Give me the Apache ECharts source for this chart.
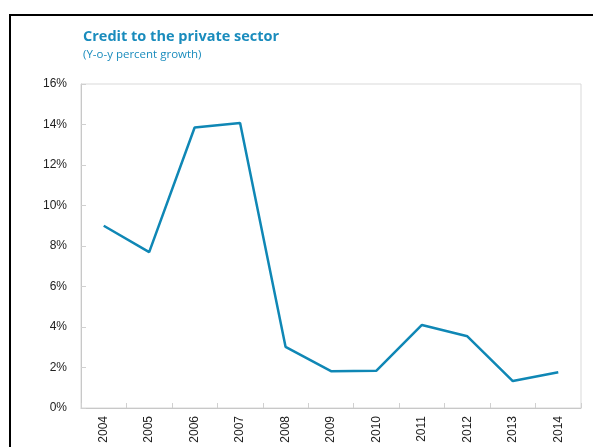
<!DOCTYPE html>
<html>
<head>
<meta charset="utf-8">
<script src="https://cdn.jsdelivr.net/npm/echarts@6/dist/echarts.min.js"></script>
<style>
  html, body { margin: 0; padding: 0; background: #fff; }
  #chart { width: 593px; height: 447px; }
</style>
</head>
<body>
<div id="chart"></div>
<script>
// Years on the category axis
const years = ['2004', '2005', '2006', '2007', '2008', '2009', '2010', '2011', '2012', '2013', '2014'];
// Year-on-year growth of credit to the private sector, percent
const creditGrowth = [9.0, 7.7, 13.85, 14.07, 3.02, 1.82, 1.84, 4.1, 3.54, 1.33, 1.77];
// Value axis range and step, percent
const yMin = 0;
const yMax = 16;
const yStep = 2;

const blue = '#0f87b5';
const chart = echarts.init(document.getElementById('chart'), null, { renderer: 'canvas' });

chart.setOption({
  animation: false,
  title: {
    text: 'Credit to the private sector',
    subtext: '(Y-o-y percent growth)',
    left: 83,
    top: 29,
    padding: 0,
    itemGap: 5,
    textStyle: { fontFamily: 'Open Sans', fontWeight: 'bold', fontSize: 14.5, color: '#1a8cbd' },
    subtextStyle: { fontFamily: 'Open Sans', fontSize: 11.5, color: '#1a8cbd' }
  },
  graphic: [
    // frame lines around the figure
    { type: 'line', shape: { x1: 9, y1: 15, x2: 593, y2: 15 }, style: { stroke: '#000', lineWidth: 2 } },
    { type: 'line', shape: { x1: 10, y1: 14, x2: 10, y2: 447 }, style: { stroke: '#000', lineWidth: 2 } }
  ],
  grid: {
    left: 81, right: 12, top: 84, bottom: 39,
    show: true,
    borderColor: '#d9d9d9',
    borderWidth: 1,
    backgroundColor: 'transparent'
  },
  xAxis: {
    type: 'category',
    data: years,
    boundaryGap: true,
    axisLine: { show: true, lineStyle: { color: '#c8c8c8', width: 1 } },
    axisTick: { show: true, inside: true, length: 5, alignWithLabel: false, lineStyle: { color: '#d0d0d0' } },
    axisLabel: {
      rotate: 90,
      margin: 8,
      fontFamily: 'Liberation Sans',
      fontSize: 12,
      color: '#222'
    },
    splitLine: { show: false }
  },
  yAxis: {
    type: 'value',
    min: yMin,
    max: yMax,
    interval: yStep,
    axisLine: { show: true, lineStyle: { color: '#c8c8c8', width: 1 } },
    axisTick: { show: true, inside: true, length: 5, lineStyle: { color: '#d0d0d0' } },
    axisLabel: {
      margin: 14,
      fontFamily: 'Liberation Sans',
      fontSize: 12,
      color: '#222',
      formatter: v => v + '%'
    },
    splitLine: { show: false }
  },
  series: [{
    type: 'line',
    data: creditGrowth,
    symbol: 'none',
    lineStyle: { color: blue, width: 2.5 },
    itemStyle: { color: blue }
  }]
});
</script>
</body>
</html>
